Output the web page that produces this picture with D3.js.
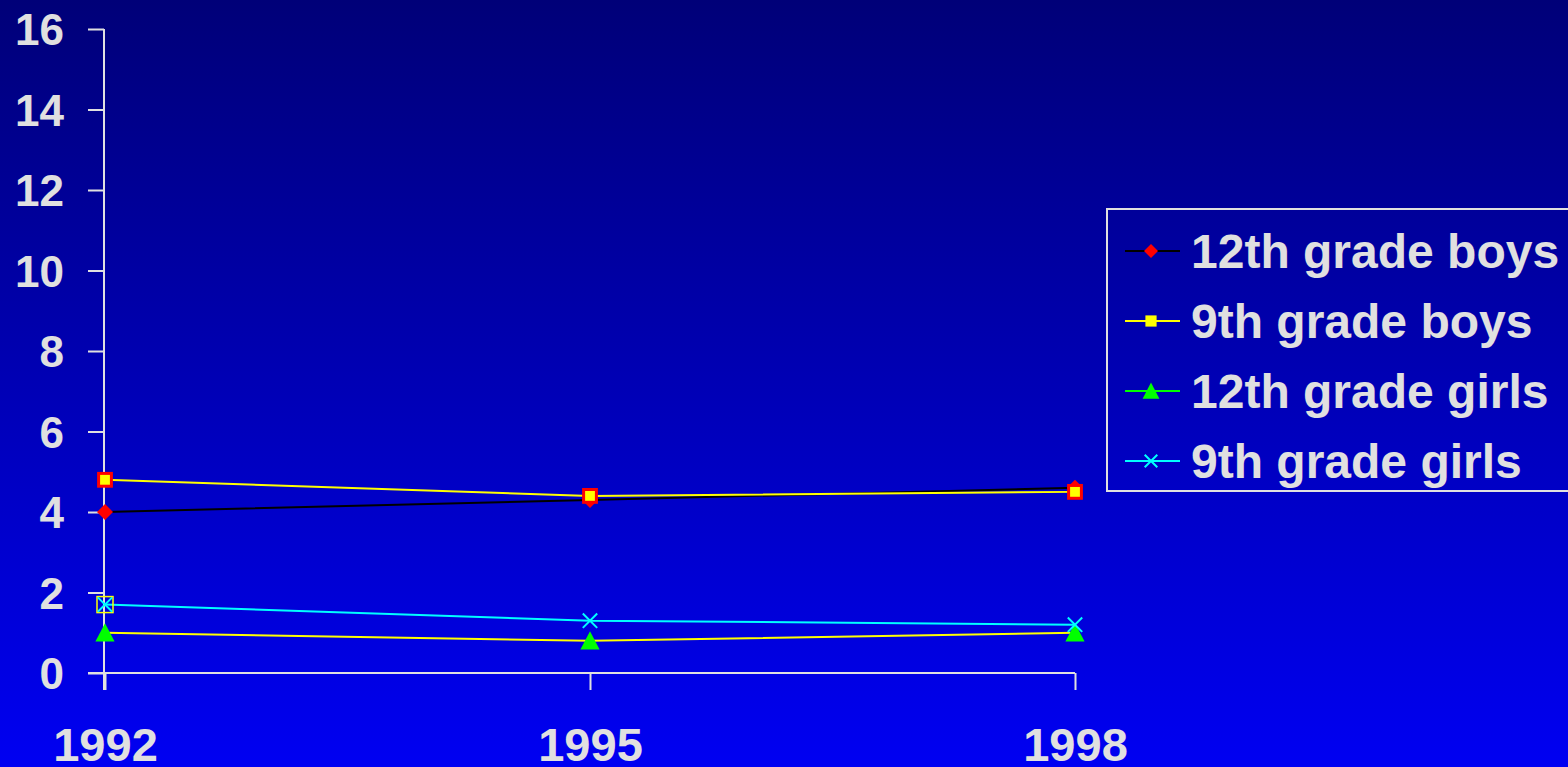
<!DOCTYPE html>
<html>
<head>
<meta charset="utf-8">
<script src="https://cdn.jsdelivr.net/npm/d3@7"></script>
<style>
  html, body { margin: 0; padding: 0; overflow: hidden; }
  text { font-family: Arial, "Liberation Sans", sans-serif; font-weight: bold; fill: #e0e0e0; }
</style>
</head>
<body>
<script>
    var w = 1568, h = 767;

    // data
    var years = ["1992", "1995", "1998"];
    var yTicks = [0, 2, 4, 6, 8, 10, 12, 14, 16];
    var boys12 = [4.0, 4.3, 4.6];
    var boys9 = [4.8, 4.4, 4.5];
    var girls12 = [1.0, 0.8, 1.0];
    var girls9 = [1.7, 1.3, 1.2];
    var names = ["12th grade boys", "9th grade boys", "12th grade girls", "9th grade girls"];

    var series = [
      {name: names[0], values: boys12, line: "#000000", marker: "diamond", fill: "#ff0000", legendLine: "#000000"},
      {name: names[1], values: boys9, line: "#ffff00", marker: "square", fill: "#ffff00", stroke: "#ff0000", legendLine: "#ffff00"},
      {name: names[2], values: girls12, line: "#ffff00", marker: "triangle", fill: "#00ff00", legendLine: "#00ff00"},
      {name: names[3], values: girls9, line: "#00ffff", marker: "x", fill: "#00ffff", legendLine: "#00ffff"}
    ];

    var svg = d3.select("body").append("svg").attr("width", w).attr("height", h);

    var grad = svg.append("defs").append("linearGradient")
      .attr("id", "bg").attr("x1", 0).attr("y1", 0).attr("x2", 0).attr("y2", 1);
    grad.append("stop").attr("offset", "0%").attr("stop-color", "#000078");
    grad.append("stop").attr("offset", "100%").attr("stop-color", "#0000f2");
    svg.append("rect").attr("width", w).attr("height", h).attr("fill", "url(#bg)");

    var x = d3.scalePoint().domain(years).range([105, 1075]);
    var y = d3.scaleLinear().domain([0, 16]).range([673, 29]);

    // y axis
    var yAxis = svg.append("g").attr("transform", "translate(104,0)")
      .call(d3.axisLeft(y).tickValues(yTicks).tickSize(16).tickPadding(24));
    yAxis.select(".domain").attr("stroke", "#e0e0e0").attr("stroke-width", 2).attr("d", "M0,29V690");
    yAxis.selectAll(".tick line").attr("stroke", "#e0e0e0").attr("stroke-width", 2);
    yAxis.selectAll(".tick text").attr("fill", "#e0e0e0").style("font-size", "44px").attr("dy", "0.36em");

    // x axis
    var xAxis = svg.append("g").attr("transform", "translate(0,673)")
      .call(d3.axisBottom(x).tickSize(17).tickPadding(38));
    xAxis.select(".domain").attr("stroke", "#e0e0e0").attr("stroke-width", 2).attr("d", "M88,0H1075");
    xAxis.selectAll(".tick line").attr("stroke", "#e0e0e0").attr("stroke-width", 2);
    xAxis.selectAll(".tick text").attr("fill", "#e0e0e0").style("font-size", "47px").attr("dy", "0.71em");

    var line = d3.line().x(function (d, i) { return x(years[i]); }).y(function (d) { return y(d); });

    function drawMarker(g, type, fill, stroke, size) {
      var r = size / 2;
      if (type === "diamond") {
        g.append("path").attr("d", "M0," + -r + "L" + r + ",0L0," + r + "L" + -r + ",0Z").attr("fill", fill);
      } else if (type === "square") {
        var s = size * 0.8;
        g.append("rect").attr("x", -s / 2).attr("y", -s / 2).attr("width", s).attr("height", s)
          .attr("fill", fill).attr("stroke", stroke || "none").attr("stroke-width", stroke ? 3 : 0);
      } else if (type === "triangle") {
        g.append("path").attr("d", "M0," + (-size * 0.6) + "L" + (size * 0.6) + "," + (size * 0.55) + "L" + (-size * 0.6) + "," + (size * 0.55) + "Z")
          .attr("fill", fill);
      } else if (type === "x") {
        var q = size * 0.45;
        g.append("path").attr("d", "M" + -q + "," + -q + "L" + q + "," + q + "M" + -q + "," + q + "L" + q + "," + -q)
          .attr("stroke", fill).attr("stroke-width", 2);
      }
    }

    var plot = svg.append("g");
    series.forEach(function (s) {
      plot.append("path").datum(s.values).attr("d", line)
        .attr("fill", "none").attr("stroke", s.line).attr("stroke-width", 2);
    });
    // odd hollow yellow box around the first 9th grade girls point
    plot.append("rect")
      .attr("x", x(years[0]) - 8).attr("y", y(girls9[0]) - 8).attr("width", 16).attr("height", 16)
      .attr("fill", "none").attr("stroke", "#ffff00").attr("stroke-width", 1.5);
    series.forEach(function (s) {
      s.values.forEach(function (v, i) {
        var g = plot.append("g").attr("transform", "translate(" + x(years[i]) + "," + y(v) + ")");
        drawMarker(g, s.marker, s.fill, s.stroke, 16);
      });
    });

    // legend
    var legend = svg.append("g");
    legend.append("rect").attr("x", 1107).attr("y", 209).attr("width", 470).attr("height", 282)
      .attr("fill", "none").attr("stroke", "#e0e0e0").attr("stroke-width", 2);
    series.forEach(function (s, i) {
      var ly = 251 + i * 70;
      var g = legend.append("g").attr("transform", "translate(0," + ly + ")");
      g.append("line").attr("x1", 1125).attr("x2", 1180).attr("y1", 0).attr("y2", 0)
        .attr("stroke", s.legendLine).attr("stroke-width", 2);
      var m = g.append("g").attr("transform", "translate(1151,0)");
      drawMarker(m, s.marker, s.fill, null, 14);
      g.append("text").attr("x", 1191).attr("y", 0).attr("dy", "0.36em")
        .style("font-size", "48px").text(s.name);
    });
</script>
</body>
</html>
